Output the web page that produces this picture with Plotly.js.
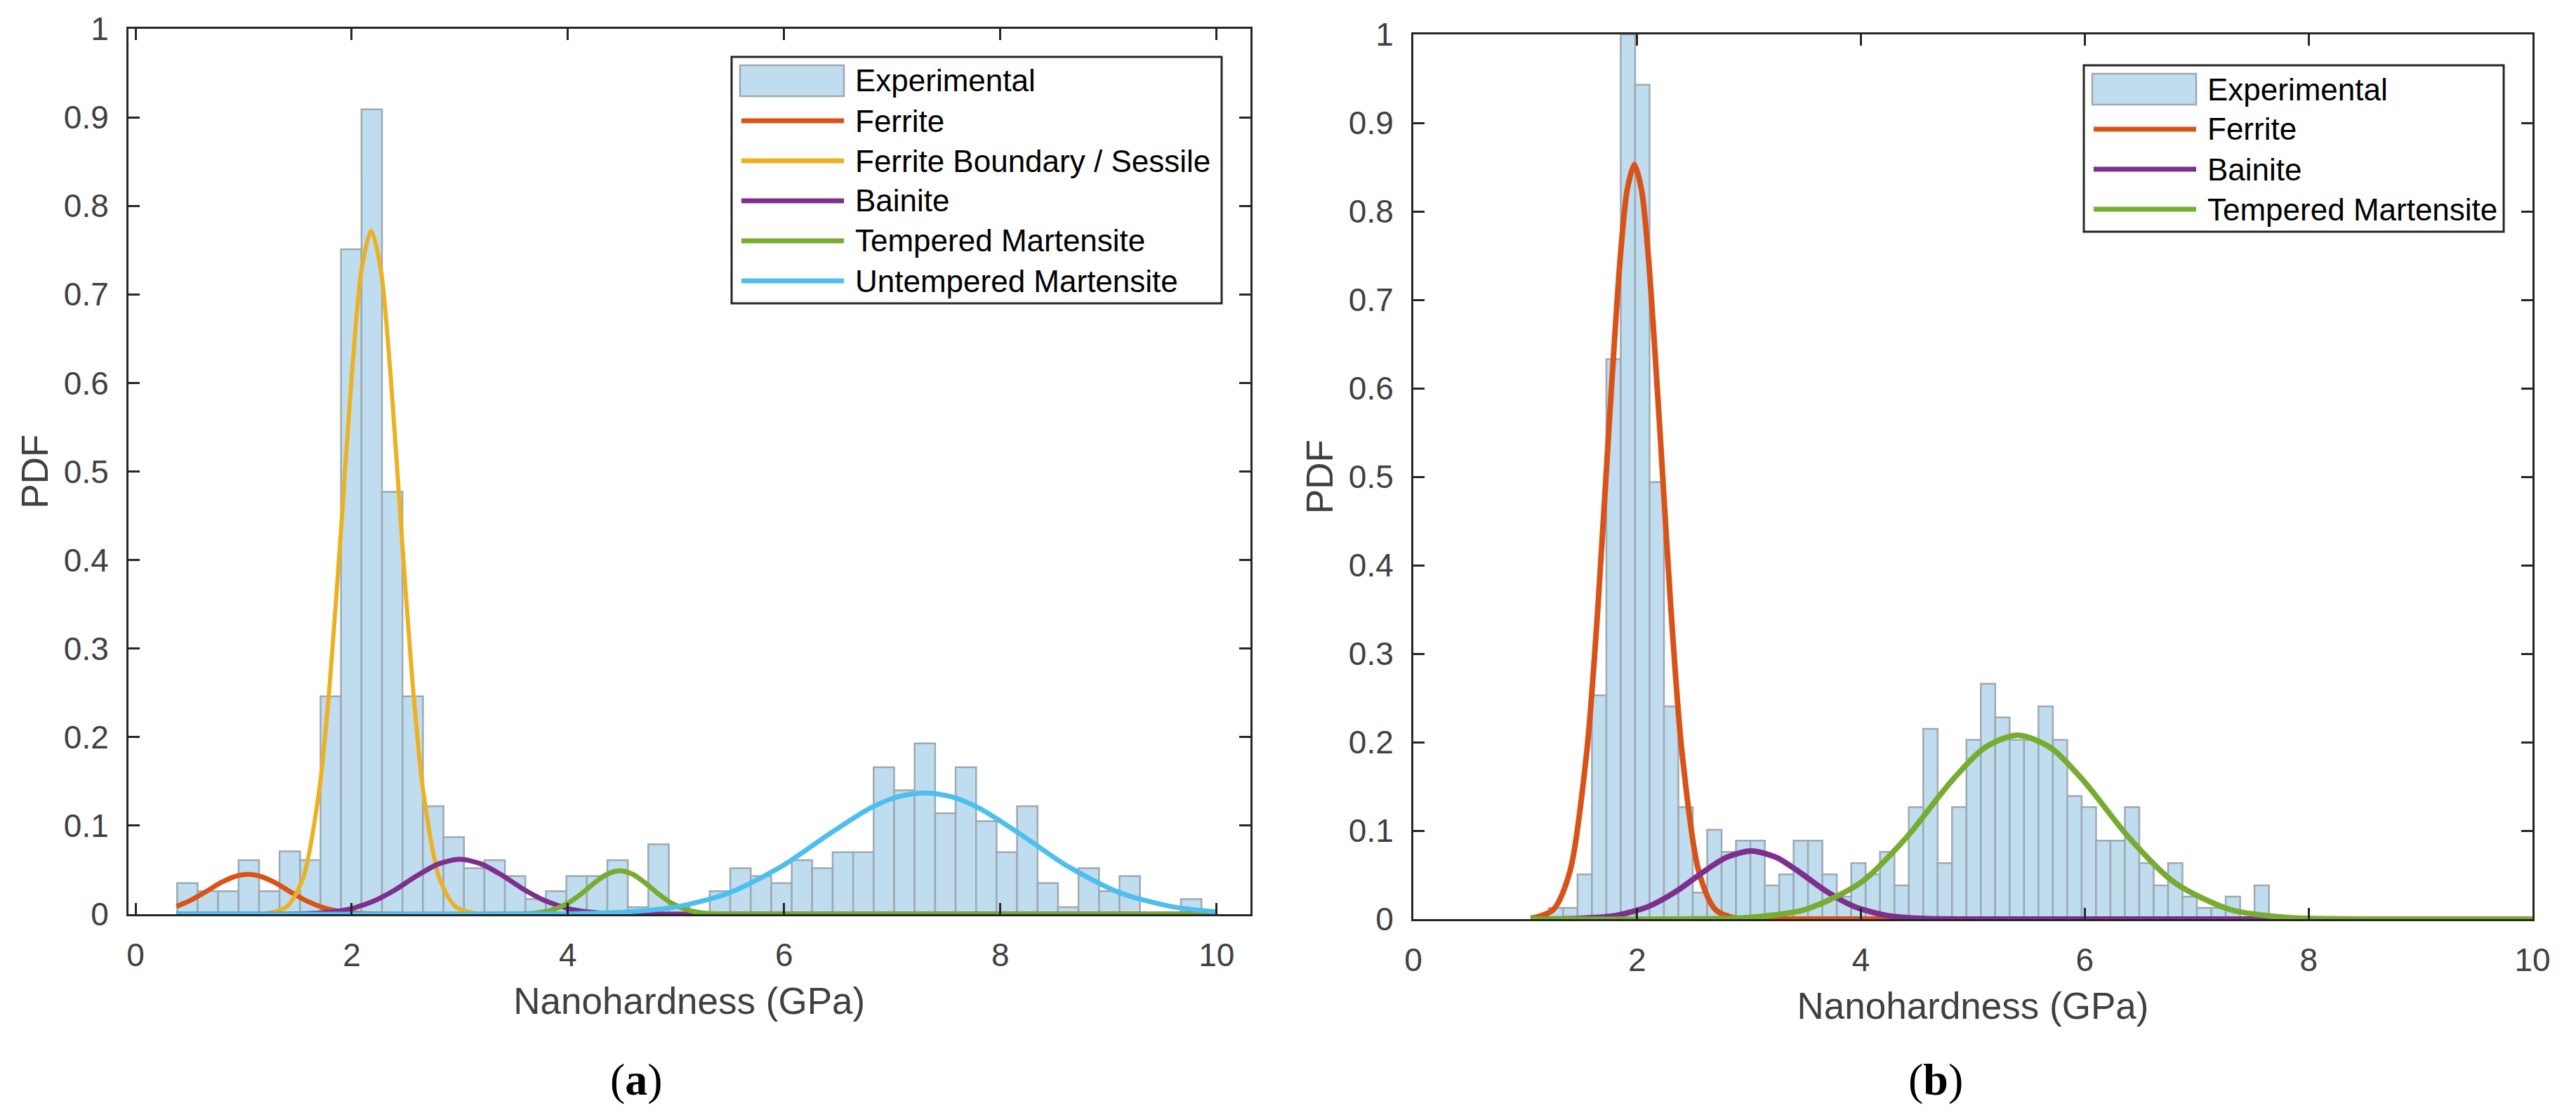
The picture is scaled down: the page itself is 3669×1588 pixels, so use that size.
<!DOCTYPE html>
<html>
<head>
<meta charset="utf-8">
<script src="https://cdn.plot.ly/plotly-3.0.1.min.js"></script>
<style>
  html, body { margin: 0; padding: 0; background: #fff; }
  #chart { width: 3669px; height: 1588px; }
</style>
</head>
<body>
<div id="chart"></div>
<script>
// ---- data ----

// (a) histogram: 50 bins starting at binStartA
const binStartA = 0.385;
const binWidthA = 0.1895;
const pdfA = [0.035, 0.026, 0.026, 0.061, 0.026, 0.071, 0.061, 0.246, 0.751, 0.909,
              0.477, 0.246, 0.122, 0.087, 0.052, 0.061, 0.043, 0.017, 0.026, 0.043,
              0.043, 0.061, 0.008, 0.079, 0.008, 0, 0.026, 0.052, 0.043, 0.035,
              0.061, 0.052, 0.070, 0.070, 0.166, 0.140, 0.193, 0.114, 0.166, 0.105,
              0.070, 0.122, 0.035, 0.008, 0.052, 0.026, 0.043, 0, 0, 0.017];

// (b) histogram
const binStartB = 1.21;
const binWidthB = 0.1287;
const pdfB = [0.0127, 0.0127, 0.0506, 0.253, 0.633, 1.0, 0.943, 0.494, 0.2405, 0.1266,
              0.03, 0.101, 0.076, 0.0886, 0.0886, 0.038, 0.0506, 0.0886, 0.0886, 0.0506,
              0.0253, 0.0633, 0.0506, 0.076, 0.038, 0.1266, 0.215, 0.0633, 0.1266, 0.2025,
              0.266, 0.228, 0.2025, 0.2025, 0.2405, 0.2025, 0.139, 0.1266, 0.0886, 0.0886,
              0.1266, 0.0633, 0.038, 0.0633, 0.0253, 0.0127, 0.0127, 0.0253, 0, 0.038];

// (a) fitted phase curves
const ferriteAx = [0.38, 0.5, 0.65, 0.8, 0.92, 1.04, 1.16, 1.28, 1.43, 1.58, 1.73, 1.88, 2.05, 2.3, 2.6, 4, 6, 8, 10];
const ferriteAy = [0.0088, 0.0151, 0.0254, 0.0363, 0.0426, 0.045, 0.0426, 0.0363, 0.0254, 0.0151, 0.0076, 0.0032, 0.001, 0.0001, 0, 0, 0, 0, 0];

const boundaryAx = [0.38, 1.2, 1.4, 1.55, 1.7, 1.8, 1.9, 2.0, 2.09, 2.18, 2.27, 2.36, 2.46, 2.56, 2.66, 2.81, 2.96, 3.16, 3.4, 10];
const boundaryAy = [0, 0.0006, 0.0086, 0.041, 0.1405, 0.2653, 0.4323, 0.6076, 0.7272, 0.772, 0.7272, 0.6076, 0.4323, 0.2653, 0.1405, 0.041, 0.0086, 0.0006, 0, 0];

const bainiteAx = [0.38, 1.3, 1.6, 1.8, 2.0, 2.2, 2.4, 2.6, 2.8, 3.0, 3.2, 3.4, 3.6, 3.8, 4.0, 4.2, 4.4, 4.7, 10];
const bainiteAy = [0, 0, 0.0007, 0.0024, 0.0065, 0.0146, 0.0274, 0.0432, 0.0566, 0.062, 0.0566, 0.0432, 0.0274, 0.0146, 0.0065, 0.0024, 0.0007, 0, 0];

const temperedAx = [0.38, 3.5, 3.7, 3.85, 4.0, 4.12, 4.24, 4.36, 4.48, 4.6, 4.72, 4.84, 4.96, 5.11, 5.26, 5.46, 5.7, 10];
const temperedAy = [0, 0.0002, 0.0013, 0.0046, 0.0124, 0.0227, 0.0348, 0.045, 0.049, 0.045, 0.0348, 0.0227, 0.0124, 0.0046, 0.0013, 0.0002, 0, 0];

const untemperedAx = [0.38, 3.5, 4.0, 4.5, 5.0, 5.5, 6.0, 6.4, 6.8, 7.05, 7.3, 7.55, 7.8, 8.2, 8.6, 9.1, 9.6, 10.0];
const untemperedAy = [0, 0, 0.0004, 0.0021, 0.0082, 0.0245, 0.0558, 0.0891, 0.12, 0.1325, 0.137, 0.1325, 0.12, 0.0891, 0.0558, 0.0245, 0.0082, 0.0028];

// (b) fitted phase curves
const ferriteBx = [1.05, 1.25, 1.4, 1.55, 1.65, 1.75, 1.85, 1.91, 1.975, 2.04, 2.1, 2.2, 2.3, 2.4, 2.55, 2.7, 2.9, 3.2, 10];
const ferriteBy = [0.0007, 0.0107, 0.0543, 0.1894, 0.3538, 0.5596, 0.749, 0.8235, 0.853, 0.8235, 0.749, 0.5596, 0.3538, 0.1894, 0.0543, 0.0107, 0.0007, 0, 0];

const bainiteBx = [1.05, 1.5, 1.8, 2.1, 2.35, 2.6, 2.8, 3.02, 3.24, 3.44, 3.69, 3.94, 4.24, 4.54, 5.0, 10];
const bainiteBy = [0, 0.0008, 0.0039, 0.0142, 0.0314, 0.0541, 0.0699, 0.077, 0.0699, 0.0541, 0.0314, 0.0142, 0.0039, 0.0008, 0, 0];

const temperedBx = [1.05, 2.5, 3.0, 3.5, 4.0, 4.4, 4.8, 5.1, 5.4, 5.7, 6.0, 6.4, 6.8, 7.3, 7.8, 8.3, 8.8, 10];
const temperedBy = [0, 0.0002, 0.0018, 0.0107, 0.0415, 0.0914, 0.1547, 0.1932, 0.208, 0.1932, 0.1547, 0.0914, 0.0415, 0.0107, 0.0018, 0.0002, 0, 0];

const xTicks = [0, 2, 4, 6, 8, 10];
const yTicks = [0, 0.1, 0.2, 0.3, 0.4, 0.5, 0.6, 0.7, 0.8, 0.9, 1];
const yTickText = ['0', '0.1', '0.2', '0.3', '0.4', '0.5', '0.6', '0.7', '0.8', '0.9', '1'];

const namesA = ['Experimental', 'Ferrite', 'Ferrite Boundary / Sessile', 'Bainite', 'Tempered Martensite', 'Untempered Martensite'];
const namesB = ['Experimental', 'Ferrite', 'Bainite', 'Tempered Martensite'];

// ---- styling ----
const W = 3669, H = 1588;
const px = v => v / W;        // pixel -> paper x
const py = v => 1 - v / H;    // pixel -> paper y

const histFill = '#BFDDEE';
const histEdge = '#9DA9B2';
const cFerrite = '#D95319';
const cBoundary = '#EDB120';
const cBainite = '#7E2F8E';
const cTempered = '#77AC30';
const cUntempered = '#4DBEEE';
const sans = 'Liberation Sans, Arial, Helvetica, sans-serif';

function binCenters(start, width, n) {
    return Array.from({length: n}, (_, i) => start + width * (i + 0.5));
}

function histTrace(start, width, vals, xa, ya) {
    return {
        type: 'bar', name: 'Experimental',
        x: binCenters(start, width, vals.length), y: vals, width: width,
        marker: { color: histFill, line: { color: histEdge, width: 2.5 } },
        xaxis: xa, yaxis: ya, showlegend: false, hoverinfo: 'skip'
    };
}

function curveTrace(name, x, y, color, lw, xa, ya) {
    return {
        type: 'scatter', mode: 'lines', name: name, x: x, y: y,
        line: { color: color, width: lw, shape: 'spline', smoothing: 0.8 },
        xaxis: xa, yaxis: ya, showlegend: false, hoverinfo: 'skip'
    };
}

const data = [
    histTrace(binStartA, binWidthA, pdfA, 'x', 'y'),
    curveTrace('Ferrite', ferriteAx, ferriteAy, cFerrite, 7, 'x', 'y'),
    curveTrace('Ferrite Boundary / Sessile', boundaryAx, boundaryAy, cBoundary, 6, 'x', 'y'),
    curveTrace('Bainite', bainiteAx, bainiteAy, cBainite, 7, 'x', 'y'),
    curveTrace('Tempered Martensite', temperedAx, temperedAy, cTempered, 7, 'x', 'y'),
    curveTrace('Untempered Martensite', untemperedAx, untemperedAy, cUntempered, 7, 'x', 'y'),

    histTrace(binStartB, binWidthB, pdfB, 'x2', 'y2'),
    curveTrace('Ferrite', ferriteBx, ferriteBy, cFerrite, 8, 'x2', 'y2'),
    curveTrace('Bainite', bainiteBx, bainiteBy, cBainite, 8, 'x2', 'y2'),
    curveTrace('Tempered Martensite', temperedBx, temperedBy, cTempered, 8, 'x2', 'y2')
];

const axisBase = {
    showline: true, linecolor: '#262626', linewidth: 3, mirror: 'ticks',
    ticks: 'inside', ticklen: 16, tickwidth: 3, tickcolor: '#262626',
    showgrid: false, zeroline: false, fixedrange: true, automargin: false,
    tickfont: { family: sans, size: 46, color: '#404040' }
};
const titleFont = { family: sans, size: 53, color: '#404040' };

function xAxis(domain, range, anchor) {
    return Object.assign({}, axisBase, {
        domain: domain, range: range, anchor: anchor,
        tickmode: 'array', tickvals: xTicks, ticklabelstandoff: 16,
        title: { text: 'Nanohardness (GPa)', font: titleFont, standoff: 22 }
    });
}
function yAxis(domain, anchor) {
    return Object.assign({}, axisBase, {
        domain: domain, range: [0, 1], anchor: anchor,
        tickmode: 'array', tickvals: yTicks, ticktext: yTickText, ticklabelstandoff: 16,
        title: { text: 'PDF', font: titleFont, standoff: 6 }
    });
}

// legend boxes drawn MATLAB-style (wide patch for the histogram)
const shapes = [];
const annotations = [];
function legendBox(names, colors, right, top, width) {
    const rowH = 57;
    const height = rowH * names.length + 9;
    const left = right - width;
    shapes.push({
        type: 'rect', xref: 'paper', yref: 'paper', layer: 'above',
        x0: px(left), x1: px(right), y0: py(top + height), y1: py(top),
        line: { color: '#262626', width: 3 }, fillcolor: '#ffffff'
    });
    names.forEach((name, i) => {
        const cy = top + 34 + rowH * i;
        if (i === 0) {
            shapes.push({
                type: 'rect', xref: 'paper', yref: 'paper', layer: 'above',
                x0: px(left + 12), x1: px(left + 160), y0: py(cy + 22), y1: py(cy - 22),
                line: { color: histEdge, width: 2.5 }, fillcolor: histFill
            });
        } else {
            shapes.push({
                type: 'line', xref: 'paper', yref: 'paper', layer: 'above',
                x0: px(left + 14), x1: px(left + 160), y0: py(cy), y1: py(cy),
                line: { color: colors[i], width: 7 }
            });
        }
        annotations.push({
            xref: 'paper', yref: 'paper', x: px(left + 174), y: py(cy),
            xanchor: 'left', yanchor: 'middle', showarrow: false, text: name,
            font: { family: sans, size: 44, color: '#000000' }
        });
    });
}
legendBox(namesA, [histFill, cFerrite, cBoundary, cBainite, cTempered, cUntempered], 1740, 81, 698);
legendBox(namesB, [histFill, cFerrite, cBainite, cTempered], 3566, 93, 598);

// panel labels
[['(<b>a</b>)', 906], ['(<b>b</b>)', 2757]].forEach(([t, cx]) => {
    annotations.push({
        xref: 'paper', yref: 'paper', x: px(cx), y: py(1537),
        xanchor: 'center', yanchor: 'middle', showarrow: false, text: t,
        font: { family: 'Liberation Serif, Times New Roman, serif', size: 64, color: '#000000' }
    });
});

const layout = {
    width: W, height: H,
    margin: { l: 0, r: 0, t: 0, b: 0 },
    paper_bgcolor: '#ffffff', plot_bgcolor: '#ffffff',
    showlegend: false, barmode: 'overlay', bargap: 0,
    font: { family: sans, color: '#404040' },
    xaxis: xAxis([px(183), px(1780.5)], [-0.065, 10.31], 'y'),
    yaxis: yAxis([py(1302), py(41)], 'x'),
    xaxis2: xAxis([px(2013), px(3607)], [0, 10], 'y2'),
    yaxis2: yAxis([py(1309), py(49)], 'x2'),
    shapes: shapes,
    annotations: annotations
};

Plotly.newPlot('chart', data, layout, { displayModeBar: false, staticPlot: true });
</script>
</body>
</html>
